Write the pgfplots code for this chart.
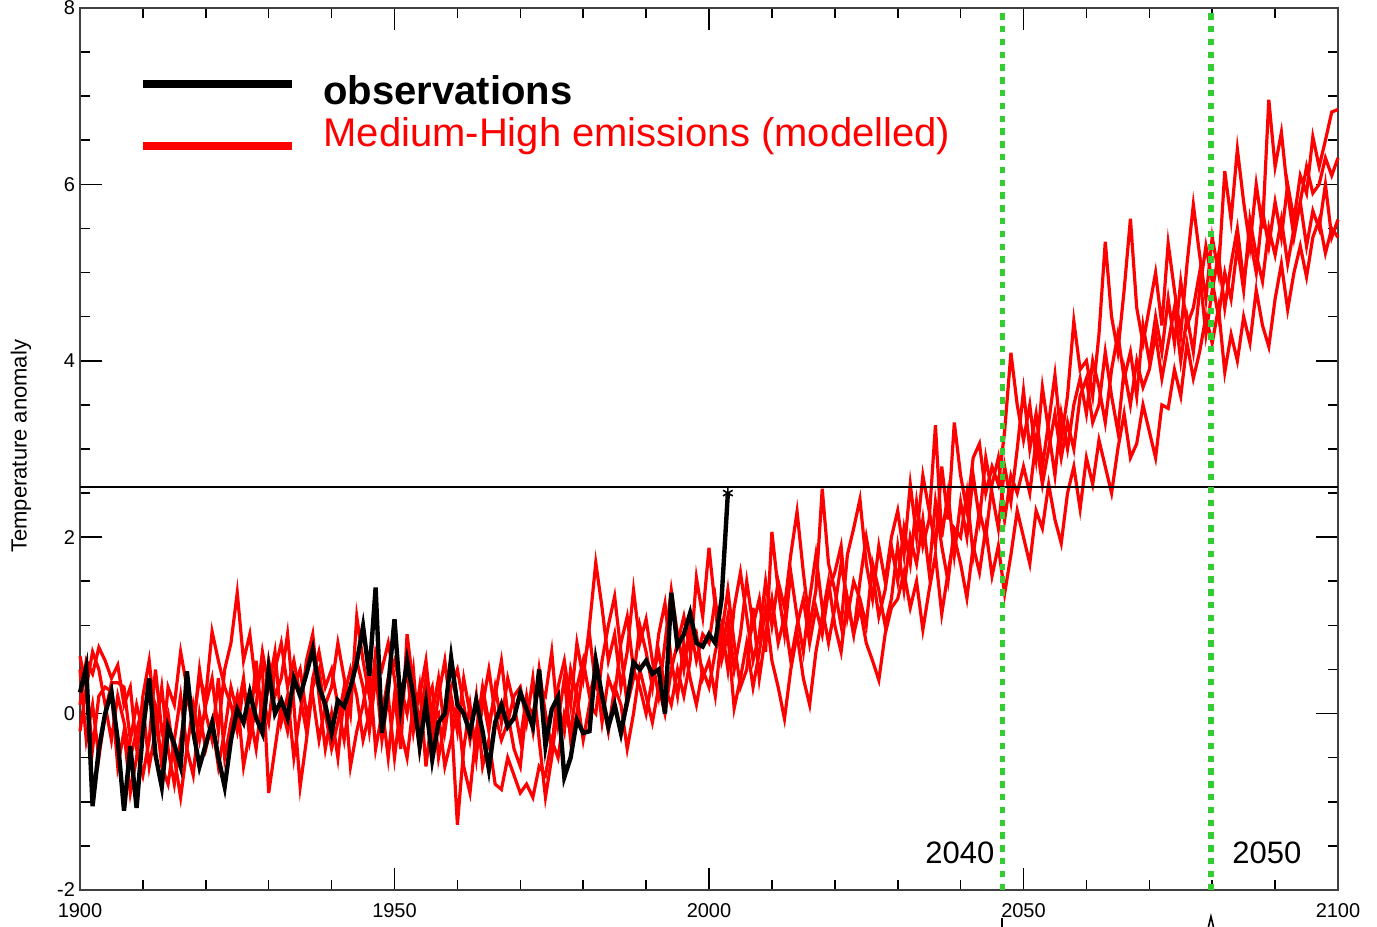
\documentclass[border=0pt]{standalone}
\usepackage{fontspec}
\setmainfont{Liberation Sans}
\usepackage{pgfplots}
\usepackage{pgfplotstable}
\pgfplotsset{compat=1.18}
\definecolor{guide}{RGB}{51,204,51}
\definecolor{model}{RGB}{255,0,0}

% four model runs, annual
\pgfplotstableread{
yr a b c d
1900 0.65 0.1 -0.2 0.5
1901 0.3 0.6 0.3 -0.3
1902 0.7 0.45 -0.4 0.1
1903 0.5 0.75 0.2 -0.5
1904 0.1 0.6 0.3 0.0
1905 -0.3 0.4 0.25 0.35
1906 0.2 0.55 -0.6 0.35
1907 -0.1 0.1 -0.2 0.3
1908 -0.5 0.3 -0.9 -0.3
1909 -0.2 -0.4 -0.5 0.1
1910 0.1 -0.7 0.2 -0.2
1911 -0.6 -0.3 0.6 0.3
1912 -0.2 0.5 -0.1 0.1
1913 0.3 -0.2 -0.5 -0.6
1914 -0.4 0.0 0.3 -0.8
1915 -0.8 -0.5 0.1 -0.3
1916 -0.3 -0.95 0.7 0.2
1917 0.2 -0.4 0.3 -0.4
1918 -0.1 0.1 -0.2 -0.7
1919 0.4 -0.3 0.5 0.0
1920 0.2 0.1 0.0 -0.4
1921 0.93 0.4 -0.3 -0.1
1922 0.6 -0.2 0.4 -0.6
1923 0.3 0.5 -0.5 -0.2
1924 0.1 0.8 -0.1 0.3
1925 -0.2 1.37 0.2 0.0
1926 0.3 0.6 -0.6 0.4
1927 0.0 0.9 -0.2 -0.3
1928 -0.4 0.3 0.6 0.1
1929 0.2 0.5 -0.1 0.7
1930 -0.1 -0.9 0.6 0.3
1931 0.5 -0.4 0.2 0.7
1932 0.8 0.1 0.4 -0.1
1933 0.3 -0.2 0.9 0.2
1934 0.6 0.3 0.1 -0.5
1935 0.2 0.5 -0.83 0.0
1936 -0.2 0.0 -0.3 0.6
1937 0.4 0.2 0.3 0.9
1938 0.7 -0.3 0.5 0.2
1939 0.3 0.1 0.0 -0.4
1940 0.5 0.3 -0.4 0.0
1941 0.1 0.8 -0.1 -0.5
1942 -0.3 0.4 0.3 0.2
1943 0.2 0.0 -0.6 0.5
1944 0.6 1.1 -0.2 0.2
1945 0.3 0.6 0.1 -0.3
1946 -0.2 0.2 0.5 0.0
1947 0.4 0.5 -0.4 0.7
1948 0.1 -0.3 0.0 0.5
1949 -0.5 0.2 0.4 0.8
1950 0.2 -0.5 0.6 0.4
1951 -0.4 0.1 0.3 -0.2
1952 0.9 0.5 0.0 -0.5
1953 0.3 -0.2 0.5 0.1
1954 -0.1 0.3 -0.4 0.2
1955 0.4 -0.6 0.1 0.6
1956 -0.3 0.0 0.3 -0.1
1957 0.2 0.4 -0.5 0.0
1958 0.6 -0.2 -0.1 -0.6
1959 0.0 0.3 0.2 -0.3
1960 -1.26 0.5 -0.2 0.1
1961 -0.4 0.1 0.4 -0.6
1962 0.1 -0.3 0.0 -0.9
1963 -0.5 0.2 -0.4 -0.2
1964 0.2 -0.6 0.1 0.3
1965 -0.2 -0.3 0.5 -0.1
1966 0.3 -0.8 0.0 0.2
1967 -0.1 -0.86 -0.3 0.6
1968 0.4 -0.5 -0.1 0.0
1969 0.1 -0.7 0.2 -0.4
1970 -0.3 -0.9 0.3 -0.6
1971 0.2 -0.8 -0.1 0.1
1972 -0.2 -0.95 0.4 0.0
1973 0.5 -0.6 -0.3 0.3
1974 0.0 -0.7 -0.95 0.2
1975 -0.4 -0.3 -0.5 0.7
1976 0.3 -0.5 0.1 -0.1
1977 0.6 0.0 -0.2 0.4
1978 0.1 -0.2 0.5 -0.3
1979 0.8 0.3 0.2 0.0
1980 0.4 0.6 -0.3 0.5
1981 1.0 0.2 0.1 0.9
1982 1.71 0.5 0.0 0.3
1983 1.2 -0.1 0.6 0.2
1984 0.6 0.4 1.0 -0.2
1985 0.9 0.2 1.33 0.3
1986 0.3 0.8 0.7 0.1
1987 0.7 1.1 0.1 -0.4
1988 1.4 0.5 0.4 0.0
1989 0.8 0.3 1.0 0.5
1990 1.07 0.0 0.7 0.2
1991 0.6 0.4 0.3 -0.1
1992 0.2 0.7 0.9 0.3
1993 0.8 0.3 1.25 0.0
1994 1.4 0.1 0.6 0.5
1995 0.9 0.5 0.2 0.8
1996 0.5 0.2 0.8 1.1
1997 1.0 0.6 0.4 0.7
1998 0.6 1.54 0.1 0.9
1999 0.9 1.1 0.5 0.4
2000 0.8 1.88 0.3 0.6
2001 1.3 1.2 0.7 0.2
2002 0.7 0.6 1.0 0.9
2003 1.1 0.9 0.5 1.4
2004 0.5 0.06 1.2 0.8
2005 0.9 0.4 1.6 0.3
2006 1.5 0.8 1.1 0.5
2007 1.0 0.3 0.6 1.2
2008 1.3 0.7 0.9 0.4
2009 0.7 1.2 1.5 0.9
2010 2.06 0.6 1.0 1.3
2011 1.4 0.3 1.5 0.8
2012 0.9 -0.06 1.2 1.1
2013 1.6 0.5 1.8 0.6
2014 1.1 0.9 2.29 1.0
2015 0.7 0.4 1.6 1.3
2016 1.3 0.1 1.0 0.8
2017 1.8 0.7 1.4 1.2
2018 1.2 1.1 2.55 0.9
2019 0.8 1.5 1.7 1.4
2020 1.2 1.0 1.4 1.6
2021 1.7 0.7 1.0 1.9
2022 1.3 1.3 1.8 1.1
2023 0.9 0.9 2.1 1.5
2024 1.5 1.2 2.43 1.3
2025 2.0 0.8 1.7 1.0
2026 1.6 0.6 1.3 1.7
2027 1.1 0.38 1.9 1.4
2028 1.4 0.9 1.5 1.0
2029 1.9 1.2 2.0 1.3
2030 1.5 1.3 2.3 1.9
2031 2.1 1.6 1.8 1.4
2032 1.7 1.2 2.6 2.0
2033 2.4 1.5 2.0 1.7
2034 1.9 0.95 2.7 2.2
2035 2.2 1.4 2.3 1.6
2036 3.27 1.8 1.9 2.4
2037 2.0 1.13 2.8 1.9
2038 2.5 1.6 2.2 1.5
2039 1.8 2.0 3.3 2.1
2040 2.4 1.7 2.7 2.0
2041 2.0 1.31 2.3 2.5
2042 2.7 1.9 2.9 1.8
2043 2.2 1.6 3.06 2.3
2044 2.9 2.1 2.5 2.0
2045 2.5 1.56 2.8 2.6
2046 2.1 1.9 2.6 2.9
2047 2.8 1.36 3.2 2.2
2048 2.4 1.8 4.09 2.7
2049 3.0 2.3 3.5 2.5
2050 3.66 2.0 3.1 2.8
2051 3.0 1.7 3.5 2.5
2052 3.4 2.3 2.9 3.1
2053 2.8 2.1 3.7 2.6
2054 3.3 2.6 3.2 3.0
2055 3.84 2.2 2.7 3.4
2056 3.1 1.93 3.4 2.9
2057 3.6 2.5 3.0 3.3
2058 4.45 2.8 3.5 3.0
2059 3.9 2.32 3.8 3.6
2060 4.0 2.9 3.4 3.8
2061 3.6 2.6 4.0 3.3
2062 4.3 3.1 3.7 3.5
2063 5.35 2.8 3.3 4.1
2064 4.5 2.5 3.9 3.6
2065 4.1 3.0 4.3 3.2
2066 4.8 3.4 3.8 3.9
2067 5.61 2.9 4.1 3.5
2068 4.6 3.06 3.6 4.0
2069 4.2 3.5 4.4 3.7
2070 4.6 3.2 4.0 3.9
2071 5.0 2.9 4.5 4.3
2072 4.4 3.5 4.1 3.8
2073 5.33 3.46 4.7 4.2
2074 4.8 3.9 4.2 4.6
2075 4.3 3.6 4.9 4.0
2076 5.1 4.2 4.4 4.5
2077 5.77 3.8 4.6 4.1
2078 5.2 4.1 5.0 4.8
2079 4.7 4.5 4.3 5.3
2080 5.4 4.2 4.8 4.9
2081 5.0 4.6 5.2 4.5
2082 6.15 3.87 4.6 5.0
2083 5.6 4.3 5.1 4.7
2084 6.4 4.0 5.5 5.3
2085 5.8 4.5 4.9 4.8
2086 5.3 4.2 5.4 5.6
2087 6.0 4.8 5.0 5.2
2088 5.5 4.4 5.7 4.9
2089 6.96 4.16 5.3 5.5
2090 6.2 4.7 5.8 5.2
2091 6.59 5.1 5.4 5.6
2092 5.9 4.58 6.0 5.1
2093 5.4 5.0 5.6 5.5
2094 5.8 5.3 6.1 5.8
2095 5.3 4.95 5.9 6.2
2096 5.7 5.4 6.54 5.9
2097 5.5 5.6 6.2 6.0
2098 6.0 5.22 6.5 6.3
2099 5.4 5.5 6.82 6.1
2100 5.6 5.4 6.85 6.3
}\runs

% observed anomaly
\pgfplotstableread{
yr v
1900 0.24
1901 0.53
1902 -1.05
1903 -0.4
1904 0.0
1905 0.25
1906 -0.3
1907 -1.1
1908 -0.37
1909 -1.07
1910 -0.2
1911 0.4
1912 -0.47
1913 -0.83
1914 -0.15
1915 -0.35
1916 -0.6
1917 0.48
1918 -0.2
1919 -0.6
1920 -0.35
1921 -0.1
1922 -0.5
1923 -0.83
1924 -0.3
1925 0.05
1926 -0.1
1927 0.24
1928 -0.05
1929 -0.22
1930 0.5
1931 0.0
1932 0.15
1933 -0.05
1934 0.4
1935 0.2
1936 0.45
1937 0.73
1938 0.3
1939 0.1
1940 -0.22
1941 0.15
1942 0.08
1943 0.3
1944 0.58
1945 0.99
1946 0.43
1947 1.43
1948 -0.22
1949 0.3
1950 1.07
1951 0.08
1952 0.6
1953 0.2
1954 -0.37
1955 0.12
1956 -0.52
1957 -0.1
1958 0.0
1959 0.63
1960 0.1
1961 0.0
1962 -0.22
1963 0.15
1964 -0.2
1965 -0.63
1966 -0.1
1967 0.1
1968 -0.15
1969 -0.05
1970 0.24
1971 0.05
1972 -0.15
1973 0.5
1974 -0.37
1975 0.05
1976 0.19
1977 -0.72
1978 -0.5
1979 -0.07
1980 -0.22
1981 -0.2
1982 0.6
1983 0.2
1984 -0.15
1985 0.1
1986 -0.22
1987 0.15
1988 0.58
1989 0.5
1990 0.6
1991 0.45
1992 0.5
1993 0.0
1994 1.37
1995 0.76
1996 0.9
1997 1.14
1998 0.8
1999 0.76
2000 0.9
2001 0.8
2002 1.3
2003 2.5
}\obs

\begin{document}
\begin{tikzpicture}
\begin{axis}[
    scale only axis,
    width=629pt,
    height=441pt,
    xmin=1900, xmax=2100,
    ymin=-2, ymax=8,
    xtick={1900,1950,...,2100},
    minor x tick num=4,
    ytick={-2,0,...,8},
    minor y tick num=3,
    major tick length=11pt,
    minor tick length=5pt,
    tick style={black, line width=0.8pt},
    axis line style={black!75, line width=1pt},
    ticklabel style={font=\fontsize{10}{12}\selectfont},
    /pgf/number format/assume math mode=true,
    xticklabel style={/pgf/number format/1000 sep={}, yshift=-3pt},
    yticklabel style={xshift=1pt},
    clip=false
]
\addplot[model, line width=1.6pt] table[x=yr, y=a] {\runs};
\addplot[model, line width=1.6pt] table[x=yr, y=b] {\runs};
\addplot[model, line width=1.6pt] table[x=yr, y=c] {\runs};
\addplot[model, line width=1.6pt] table[x=yr, y=d] {\runs};

\addplot[black, line width=1pt] coordinates {(1900,2.57) (2100,2.57)};

\addplot[black, line width=2.2pt, mark=asterisk, mark indices={104},
    mark options={line width=0.8pt, scale=1.4}] table[x=yr, y=v] {\obs};

\addplot[guide, line width=2.6pt, dash pattern=on 3.2pt off 3.2pt] coordinates {(2046.6,-2) (2046.6,8)};
\addplot[guide, line width=2.6pt, dash pattern=on 3.2pt off 3.2pt] coordinates {(2079.8,-2) (2079.8,8)};

% legend
\draw[black, line width=4pt] (rel axis cs:0.0501,0.9138) -- (rel axis cs:0.1685,0.9138);
\draw[model, line width=4pt] (rel axis cs:0.0501,0.8435) -- (rel axis cs:0.1685,0.8435);
\node[anchor=base west, inner sep=0pt, font=\fontsize{20}{24}\selectfont\bfseries]
    at (rel axis cs:0.1932,0.8910) {observations};
\node[anchor=base west, inner sep=0pt, text=model, font=\fontsize{20}{24}\selectfont]
    at (rel axis cs:0.1932,0.8424) {Medium-High emissions (modelled)};

\node[anchor=base west, inner sep=0pt, font=\fontsize{15.5}{18}\selectfont]
    at (rel axis cs:0.6717,0.0295) {2040};
\node[anchor=base west, inner sep=0pt, font=\fontsize{15.5}{18}\selectfont]
    at (rel axis cs:0.9157,0.0295) {2050};

\node[rotate=90, inner sep=0pt, font=\fontsize{11}{13}\selectfont]
    at (rel axis cs:-0.0469,0.503) {Temperature anomaly};

% small marks under the axis
\draw[black, line width=1pt] (axis cs:2046.6,-2.32) -- (axis cs:2046.6,-2.45);
\draw[black, line width=0.8pt] (axis cs:2079.3,-2.45) -- (axis cs:2079.8,-2.3) -- (axis cs:2080.3,-2.45);

\coordinate (sw) at (rel axis cs:0,0);
\coordinate (ne) at (rel axis cs:1,1);
\end{axis}
\pgfresetboundingbox
\useasboundingbox ([xshift=-40pt,yshift=-18.5pt]sw) rectangle ([xshift=19.5pt,yshift=4pt]ne);
\end{tikzpicture}
\end{document}
